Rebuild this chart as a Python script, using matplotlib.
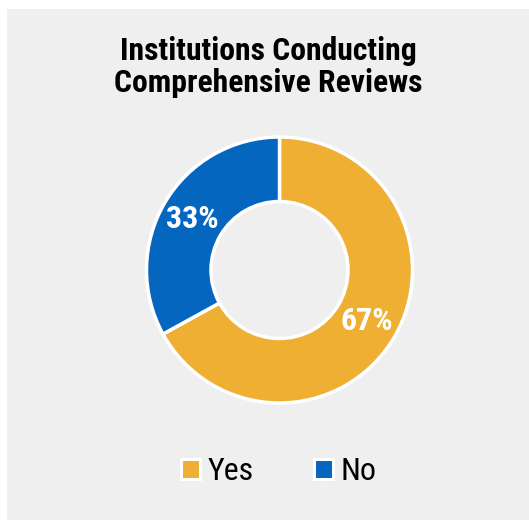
import matplotlib.pyplot as plt
from matplotlib.patches import Patch, Rectangle

labels = ["Yes", "No"]
shares = [67, 33]
colors = ["#EEAF33", "#0566BF"]
title = "Institutions Conducting\nComprehensive Reviews"

narrow = ["Roboto Condensed", "DejaVu Sans"]

W, H = 529, 520
fig = plt.figure(figsize=(W / 100, H / 100), dpi=100)
fig.patch.set_facecolor("white")
# grey panel behind the chart
fig.patches.append(Rectangle((7 / W, 0), 1, 1 - 9 / H, transform=fig.transFigure,
                             facecolor="#EFEFEF", edgecolor="none", zorder=-1))

cx, cy, half = 279.5, 270, 140
ax = fig.add_axes([(cx - half) / W, 1 - (cy + half) / H, 2 * half / W, 2 * half / H])
ax.set_facecolor("none")
wedges, texts, autotexts = ax.pie(
    shares, colors=colors, startangle=90, counterclock=False, radius=133 / half,
    autopct=lambda p: f"{p:.0f}%", pctdistance=0.76,
    wedgeprops=dict(width=(133 - 68.5) / half, edgecolor="white", linewidth=2.5),
    textprops=dict(color="white", fontsize=23, fontweight="bold", family=narrow))
ax.set_xlim(-1, 1)
ax.set_ylim(-1, 1)
ax.set_aspect("equal")

fig.text(0.507, 1 - 67 / H, title, ha="center", va="center", fontsize=22.8,
         fontweight="bold", family=narrow, linespacing=1.12)

handles = [Patch(facecolor=c, edgecolor="white", linewidth=2.2) for c in colors]
leg = fig.legend(handles, labels, loc="center", bbox_to_anchor=(279 / W, 1 - 472 / H),
                 ncol=2, frameon=False, prop=dict(family=narrow, size=23),
                 handlelength=0.58, handleheight=0.58, handletextpad=0.25, columnspacing=1.9)

fig.savefig("out.png", dpi=100, facecolor=fig.get_facecolor())
